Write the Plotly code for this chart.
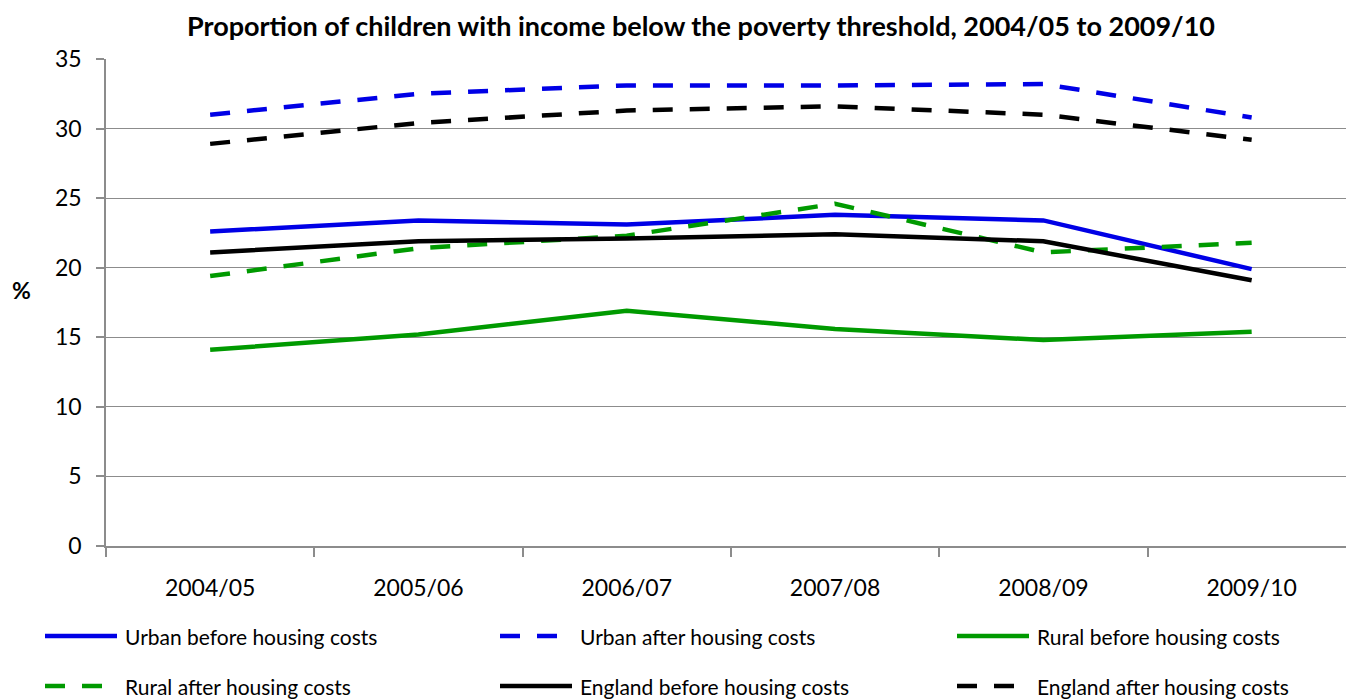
import plotly.graph_objects as go

# Financial years on the x axis
years = ["2004/05", "2005/06", "2006/07", "2007/08", "2008/09", "2009/10"]

# Percentage of children below the poverty threshold
urban_bhc = [22.6, 23.4, 23.1, 23.8, 23.4, 19.9]
urban_ahc = [31.0, 32.5, 33.1, 33.1, 33.2, 30.8]
rural_bhc = [14.1, 15.2, 16.9, 15.6, 14.8, 15.4]
rural_ahc = [19.4, 21.4, 22.3, 24.6, 21.1, 21.8]
england_bhc = [21.1, 21.9, 22.1, 22.4, 21.9, 19.1]
england_ahc = [28.9, 30.4, 31.3, 31.6, 31.0, 29.2]

series_names = [
    "Urban before housing costs",
    "Urban after housing costs",
    "Rural before housing costs",
    "Rural after housing costs",
    "England before housing costs",
    "England after housing costs",
]
series_values = [urban_bhc, urban_ahc, rural_bhc, rural_ahc, england_bhc, england_ahc]

y_ticks = [0, 5, 10, 15, 20, 25, 30, 35]

BLUE = "#0000e6"
GREEN = "#009a00"
BLACK = "#000000"
GRID = "#8c8c8c"
DASH = "20px,17px"
FONT = "Lato"

styles = [
    (BLUE, "solid"),
    (BLUE, DASH),
    (GREEN, "solid"),
    (GREEN, DASH),
    (BLACK, "solid"),
    (BLACK, DASH),
]

fig = go.Figure()
for name, vals, (color, dash) in zip(series_names, series_values, styles):
    fig.add_trace(go.Scatter(
        x=years, y=vals, name=name, mode="lines",
        line=dict(color=color, width=4.5, dash=dash),
        showlegend=False,
    ))

W, H = 1346, 700
ML, MR, MT, MB = 106, 0, 59, 154
pw, ph = W - ML - MR, H - MT - MB

# Legend laid out in a 3 x 2 grid below the axis
col_x = [45, 500, 957]
row_y = [636, 686]
sample_len = 72
text_off = 78
shapes = []
annotations = []
for i, (name, (color, dash)) in enumerate(zip(series_names, styles)):
    r, c = divmod(i, 3)
    x0 = col_x[c]
    yy = row_y[r]
    px0 = (x0 - ML) / pw
    px1 = (x0 + sample_len - ML) / pw
    py = (H - MB - yy) / ph
    shapes.append(dict(
        type="line", xref="paper", yref="paper",
        x0=px0, x1=px1, y0=py, y1=py,
        line=dict(color=color, width=4.5, dash=dash),
    ))
    annotations.append(dict(
        xref="paper", yref="paper",
        x=(x0 + text_off - ML) / pw, y=py,
        xanchor="left", yanchor="middle",
        text=name, showarrow=False,
        font=dict(family=FONT, size=21, color="#000000"),
    ))

# Axis caption
annotations.append(dict(
    xref="paper", yref="paper",
    x=(22 - ML) / pw, y=(H - MB - 290) / ph,
    xanchor="center", yanchor="middle",
    text="<b>%</b>", showarrow=False,
    font=dict(family=FONT, size=23, color="#000000"),
))

fig.update_layout(
    width=W, height=H,
    margin=dict(l=ML, r=MR, t=MT, b=MB),
    paper_bgcolor="white", plot_bgcolor="white",
    font=dict(family=FONT, size=23, color="#000000"),
    title=dict(
        text="<b>Proportion of children with income below the poverty threshold, 2004/05 to 2009/10</b>",
        x=701 / W, xanchor="center", xref="container",
        y=1 - 27 / H, yanchor="middle", yref="container",
        font=dict(family=FONT, size=27, color="#000000"),
    ),
    shapes=shapes,
    annotations=annotations,
)

fig.update_xaxes(
    type="category",
    range=[-0.5, -0.5 + pw / 208.3],
    tickson="boundaries",
    ticks="outside", ticklen=9, tickwidth=1.5, tickcolor=GRID,
    showline=True, linecolor=GRID, linewidth=1.5,
    showgrid=False, zeroline=False,
    ticklabelstandoff=21,
    tickfont=dict(family=FONT, size=23, color="#000000"),
)
fig.update_yaxes(
    range=[0, 35],
    tickvals=y_ticks,
    ticks="outside", ticklen=8, tickwidth=1.5, tickcolor=GRID,
    showline=True, linecolor=GRID, linewidth=1.5,
    showgrid=True, gridcolor=GRID, gridwidth=1.3,
    zeroline=False,
    ticklabelstandoff=10,
    tickfont=dict(family=FONT, size=23, color="#000000"),
)

fig.write_html("out.html")
